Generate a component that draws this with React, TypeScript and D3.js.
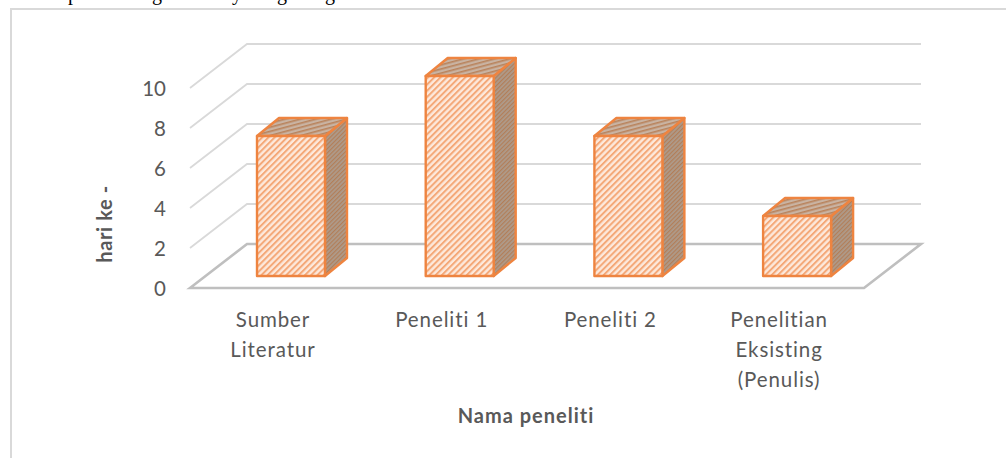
import React from "react";
import * as d3 from "d3";

const categories: string[][] = [
  ["Sumber", "Literatur"],
  ["Peneliti 1"],
  ["Peneliti 2"],
  ["Penelitian", "Eksisting", "(Penulis)"],
];
const values = [7, 10, 7, 3];
const yTicks = [0, 2, 4, 6, 8, 10];
const yTitle = "hari ke -";
const xTitle = "Nama peneliti";
// Words of the paragraph line that runs just above the chart frame.
const runningWords: [string, number][] = [
  ["Hasil", 14],
  ["pertama", 68],
  ["gambar", 152],
  ["yaitu", 232],
  ["grafik", 277],
  ["garis", 325],
];

const W = 1006;
const H = 458;
const FONT = "Lato, 'Open Sans', sans-serif";
const TEXT = "#595959";
const ORANGE = "#EE8440";

// Oblique offsets of the 3D plot box and of the bars.
const DEPTH_X = 57;
const DEPTH_Y = -44;
const BAR_DX = 22;
const BAR_DY = -18;
const FLOOR_LEFT = 190;
const FLOOR_RIGHT = 864;

const y = d3.scaleLinear().domain([0, 10]).range([288, 88]);
const x = d3.scaleBand<number>()
  .domain(d3.range(categories.length))
  .range([206.4, 881.7])
  .paddingInner(0.597)
  .paddingOuter(0.3);
const line = d3.line();
const closed = (pts: [number, number][]) => line(pts) + "Z";

export default function App() {
  const barBase = y(0) - 12;
  const bw = x.bandwidth();
  return (
    <svg
      width={W}
      height={H}
      viewBox={`0 0 ${W} ${H}`}
      style={{ position: "absolute", left: 0, top: 0, background: "#fff" }}
    >
      <defs>
        <pattern id="hatchFront" width="4.4" height="4.4" patternUnits="userSpaceOnUse" patternTransform="rotate(45)">
          <rect width="4.4" height="4.4" fill="#FDE9DC" />
          <rect width="2" height="4.4" fill="#F4A878" />
        </pattern>
        <pattern id="hatchTop" width="4" height="4" patternUnits="userSpaceOnUse" patternTransform="rotate(-15)">
          <rect width="4" height="4" fill="#C9B3A2" />
          <rect width="4" height="1.6" fill="#B9835C" />
        </pattern>
        <pattern id="hatchSide" width="3" height="3" patternUnits="userSpaceOnUse" patternTransform="rotate(45)">
          <rect width="3" height="3" fill="#AE9B8B" />
          <rect width="1.2" height="3" fill="#B27E58" />
        </pattern>
      </defs>

      <text y={0} fontFamily="'Liberation Serif', serif" fontSize={20} fill="#000">
        {runningWords.map(([w, px]) => (
          <tspan key={w} x={px}>{w}</tspan>
        ))}
      </text>

      <rect x={11} y={9} width={1100} height={600} fill="#fff" stroke="#D9D9D9" strokeWidth={2} />

      {/* gridlines on the left and back walls */}
      {yTicks.filter((t) => t > 0).map((t) => (
        <polyline
          key={t}
          points={`${FLOOR_LEFT},${y(t)} ${FLOOR_LEFT + DEPTH_X},${y(t) + DEPTH_Y} ${FLOOR_RIGHT + DEPTH_X},${y(t) + DEPTH_Y}`}
          fill="none"
          stroke="#D9D9D9"
          strokeWidth={1.8}
        />
      ))}

      {/* floor */}
      <path
        d={closed([
          [FLOOR_LEFT, y(0)],
          [FLOOR_LEFT + DEPTH_X, y(0) + DEPTH_Y],
          [FLOOR_RIGHT + DEPTH_X, y(0) + DEPTH_Y],
          [FLOOR_RIGHT, y(0)],
        ])}
        fill="#fff"
        stroke="#BFBFBF"
        strokeWidth={2.6}
      />

      {/* bars */}
      {values.map((v, i) => {
        const x0 = x(i)!;
        const x1 = x0 + bw;
        const top = barBase - (y(0) - y(v));
        return (
          <g key={i} stroke={ORANGE} strokeWidth={2.4} strokeLinejoin="round">
            <path
              d={closed([[x1, top], [x1 + BAR_DX, top + BAR_DY], [x1 + BAR_DX, barBase + BAR_DY], [x1, barBase]])}
              fill="url(#hatchSide)"
            />
            <path
              d={closed([[x0, top], [x0 + BAR_DX, top + BAR_DY], [x1 + BAR_DX, top + BAR_DY], [x1, top]])}
              fill="url(#hatchTop)"
            />
            <rect x={x0} y={top} width={bw} height={barBase - top} fill="url(#hatchFront)" />
          </g>
        );
      })}

      {/* y axis labels */}
      {yTicks.map((t) => (
        <text
          key={t}
          x={166}
          y={y(t) + 8}
          textAnchor="end"
          fontFamily={FONT}
          fontSize={20.5}
          fill={TEXT}
        >
          {t}
        </text>
      ))}

      {/* category labels */}
      {categories.map((lines, i) =>
        lines.map((l, j) => (
          <text
            key={l}
            x={x(i)! + bw / 2 - 18}
            y={327 + j * 30}
            textAnchor="middle"
            fontFamily={FONT}
            fontSize={20.5}
            letterSpacing={0.9}
            fill={TEXT}
          >
            {l}
          </text>
        ))
      )}

      <text
        transform="translate(112,224) rotate(-90)"
        textAnchor="middle"
        fontFamily={FONT}
        fontSize={20}
        fontWeight={700}
        letterSpacing={0.6}
        fill={TEXT}
      >
        {yTitle}
      </text>
      <text
        x={526}
        y={423}
        textAnchor="middle"
        fontFamily={FONT}
        fontSize={20}
        fontWeight={700}
        letterSpacing={1}
        fill={TEXT}
      >
        {xTitle}
      </text>
    </svg>
  );
}
